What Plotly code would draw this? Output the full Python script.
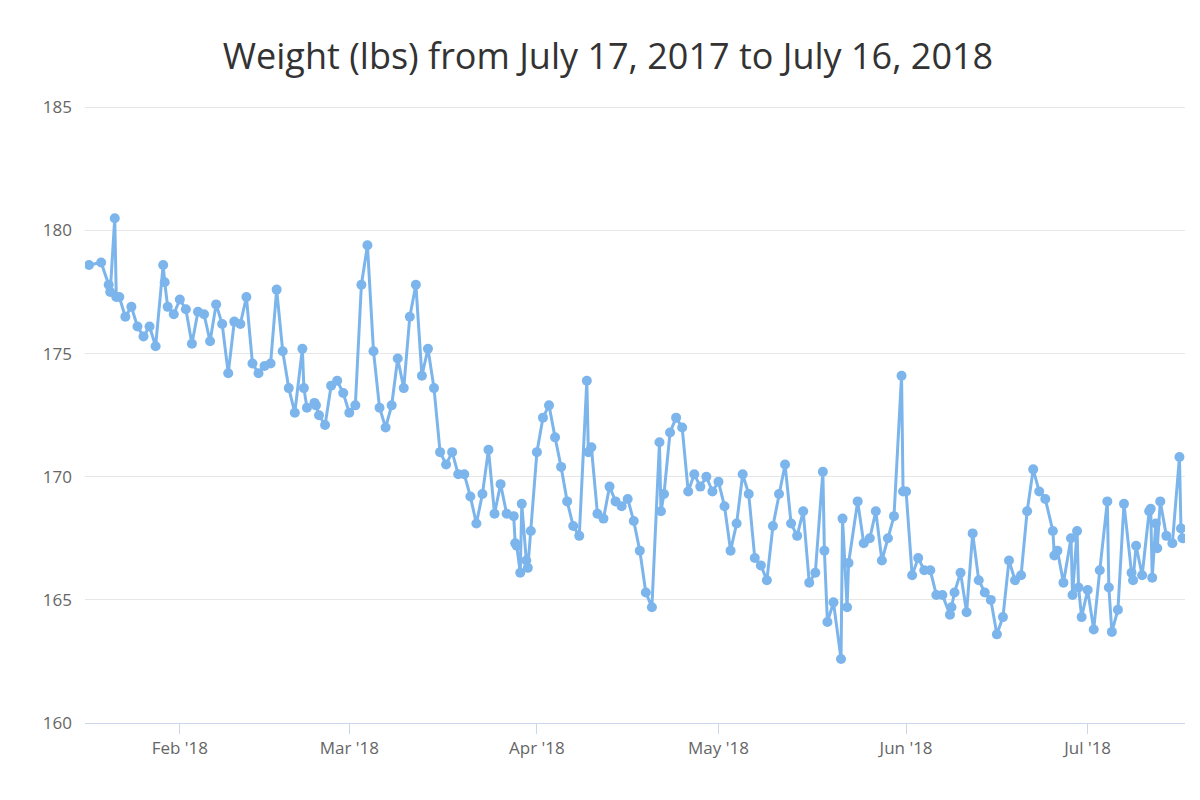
"""Daily weight log, Highcharts-style line chart."""
import plotly.graph_objects as go

# Readings (date, lbs); same-day readings are spread over the day
DATES: list[str] = [
    "2018-01-17", "2018-01-19", "2018-01-20 06:00", "2018-01-20 12:00",
    "2018-01-21 06:00", "2018-01-21 12:00", "2018-01-22", "2018-01-23",
    "2018-01-24", "2018-01-25", "2018-01-26", "2018-01-27", "2018-01-28",
    "2018-01-29 06:00", "2018-01-29 12:00", "2018-01-30", "2018-01-31",
    "2018-02-01", "2018-02-02", "2018-02-03", "2018-02-04", "2018-02-05",
    "2018-02-06", "2018-02-07", "2018-02-08", "2018-02-09", "2018-02-10",
    "2018-02-11", "2018-02-12", "2018-02-13", "2018-02-14", "2018-02-15",
    "2018-02-16", "2018-02-17", "2018-02-18", "2018-02-19", "2018-02-20",
    "2018-02-21 06:00", "2018-02-21 12:00", "2018-02-22", "2018-02-23 06:00",
    "2018-02-23 12:00", "2018-02-24", "2018-02-25", "2018-02-26", "2018-02-27",
    "2018-02-28", "2018-03-01", "2018-03-02", "2018-03-03", "2018-03-04",
    "2018-03-05", "2018-03-06", "2018-03-07", "2018-03-08", "2018-03-09",
    "2018-03-10", "2018-03-11", "2018-03-12", "2018-03-13", "2018-03-14",
    "2018-03-15", "2018-03-16", "2018-03-17", "2018-03-18", "2018-03-19",
    "2018-03-20", "2018-03-21", "2018-03-22", "2018-03-23", "2018-03-24",
    "2018-03-25", "2018-03-26", "2018-03-27", "2018-03-28 04:00",
    "2018-03-28 10:00", "2018-03-28 16:00", "2018-03-29 06:00",
    "2018-03-29 12:00", "2018-03-30 06:00", "2018-03-30 12:00", "2018-03-31",
    "2018-04-01", "2018-04-02", "2018-04-03", "2018-04-04", "2018-04-05",
    "2018-04-06", "2018-04-07", "2018-04-08", "2018-04-09 06:00",
    "2018-04-09 12:00", "2018-04-10", "2018-04-11", "2018-04-12", "2018-04-13",
    "2018-04-14", "2018-04-15", "2018-04-16", "2018-04-17", "2018-04-18",
    "2018-04-19", "2018-04-20", "2018-04-21 06:00", "2018-04-21 12:00",
    "2018-04-22", "2018-04-23", "2018-04-24", "2018-04-25", "2018-04-26",
    "2018-04-27", "2018-04-28", "2018-04-29", "2018-04-30", "2018-05-01",
    "2018-05-02", "2018-05-03", "2018-05-04", "2018-05-05", "2018-05-06",
    "2018-05-07", "2018-05-08", "2018-05-09", "2018-05-10", "2018-05-11",
    "2018-05-12", "2018-05-13", "2018-05-14", "2018-05-15", "2018-05-16",
    "2018-05-17", "2018-05-18 06:00", "2018-05-18 12:00", "2018-05-19",
    "2018-05-20", "2018-05-21 06:00", "2018-05-21 12:00", "2018-05-22 06:00",
    "2018-05-22 12:00", "2018-05-24", "2018-05-25", "2018-05-26", "2018-05-27",
    "2018-05-28", "2018-05-29", "2018-05-30", "2018-05-31 06:00",
    "2018-05-31 12:00", "2018-06-01", "2018-06-02", "2018-06-03", "2018-06-04",
    "2018-06-05", "2018-06-06", "2018-06-07", "2018-06-08 06:00",
    "2018-06-08 12:00", "2018-06-09", "2018-06-10", "2018-06-11", "2018-06-12",
    "2018-06-13", "2018-06-14", "2018-06-15", "2018-06-16", "2018-06-17",
    "2018-06-18", "2018-06-19", "2018-06-20", "2018-06-21", "2018-06-22",
    "2018-06-23", "2018-06-24", "2018-06-25 06:00", "2018-06-25 12:00",
    "2018-06-26", "2018-06-27", "2018-06-28 06:00", "2018-06-28 12:00",
    "2018-06-29 06:00", "2018-06-29 12:00", "2018-06-30", "2018-07-01",
    "2018-07-02", "2018-07-03", "2018-07-04 06:00", "2018-07-04 12:00",
    "2018-07-05", "2018-07-06", "2018-07-07", "2018-07-08 06:00",
    "2018-07-08 12:00", "2018-07-09", "2018-07-10", "2018-07-11 04:00",
    "2018-07-11 10:00", "2018-07-11 16:00", "2018-07-12 06:00",
    "2018-07-12 12:00", "2018-07-13", "2018-07-14", "2018-07-15",
    "2018-07-16 04:00", "2018-07-16 10:00", "2018-07-16 16:00",
]
WEIGHTS: list[float] = [
    178.6, 178.7, 177.8, 177.5,
    180.5, 177.3, 177.3, 176.5,
    176.9, 176.1, 175.7, 176.1, 175.3,
    178.6, 177.9, 176.9, 176.6,
    177.2, 176.8, 175.4, 176.7, 176.6,
    175.5, 177.0, 176.2, 174.2, 176.3,
    176.2, 177.3, 174.6, 174.2, 174.5,
    174.6, 177.6, 175.1, 173.6, 172.6,
    175.2, 173.6, 172.8, 173.0,
    172.9, 172.5, 172.1, 173.7, 173.9,
    173.4, 172.6, 172.9, 177.8, 179.4,
    175.1, 172.8, 172.0, 172.9, 174.8,
    173.6, 176.5, 177.8, 174.1, 175.2,
    173.6, 171.0, 170.5, 171.0, 170.1,
    170.1, 169.2, 168.1, 169.3, 171.1,
    168.5, 169.7, 168.5, 168.4,
    167.3, 167.2, 166.1,
    168.9, 166.6, 166.3, 167.8,
    171.0, 172.4, 172.9, 171.6, 170.4,
    169.0, 168.0, 167.6, 173.9,
    171.0, 171.2, 168.5, 168.3, 169.6,
    169.0, 168.8, 169.1, 168.2, 167.0,
    165.3, 164.7, 171.4, 168.6,
    169.3, 171.8, 172.4, 172.0, 169.4,
    170.1, 169.6, 170.0, 169.4, 169.8,
    168.8, 167.0, 168.1, 170.1, 169.3,
    166.7, 166.4, 165.8, 168.0, 169.3,
    170.5, 168.1, 167.6, 168.6, 165.7,
    166.1, 170.2, 167.0, 164.1,
    164.9, 162.6, 168.3, 164.7,
    166.5, 169.0, 167.3, 167.5, 168.6,
    166.6, 167.5, 168.4, 174.1,
    169.4, 169.4, 166.0, 166.7, 166.2,
    166.2, 165.2, 165.2, 164.4,
    164.7, 165.3, 166.1, 164.5, 167.7,
    165.8, 165.3, 165.0, 163.6, 164.3,
    166.6, 165.8, 166.0, 168.6, 170.3,
    169.4, 169.1, 167.8, 166.8,
    167.0, 165.7, 167.5, 165.2,
    167.8, 165.5, 164.3, 165.4,
    163.8, 166.2, 169.0, 165.5,
    163.7, 164.6, 168.9, 166.1,
    165.8, 167.2, 166.0, 168.6,
    168.7, 165.9, 168.1,
    167.1, 169.0, 167.6, 167.3,
    170.8, 167.9, 167.5,
]

Y_TICKS: list[int] = [160, 165, 170, 175, 180, 185]
X_TICKS: list[str] = ["2018-02-01", "2018-03-01", "2018-04-01", "2018-05-01", "2018-06-01", "2018-07-01"]
X_LABELS: list[str] = ["Feb '18", "Mar '18", "Apr '18", "May '18", "Jun '18", "Jul '18"]

fig = go.Figure(go.Scatter(
    x=DATES,
    y=WEIGHTS,
    mode="lines+markers",
    line={"color": "#7cb5ec", "width": 3},
    marker={"color": "#7cb5ec", "size": 10},
    showlegend=False,
))

fig.update_layout(
    width=1200,
    height=800,
    title={
        "text": "Weight (lbs) from July 17, 2017 to July 16, 2018",
        "x": 0.5, "y": 0.955, "xanchor": "center",
        "font": {"size": 36, "color": "#333333", "family": "Open Sans"},
    },
    font={"family": "Open Sans", "color": "#666666", "size": 17},
    plot_bgcolor="white",
    paper_bgcolor="white",
    margin={"l": 77, "r": 23, "t": 92, "b": 85},
)
fig.update_xaxes(
    range=["2018-01-16 08:00", "2018-07-17 02:00"],
    tickvals=X_TICKS, ticktext=X_LABELS,
    showgrid=False, showline=True, linecolor="#ccd6eb", linewidth=1,
    ticks="outside", tickcolor="#ccd6eb", ticklen=10,
)
fig.update_yaxes(
    range=[160, 185.3],
    tickvals=Y_TICKS,
    gridcolor="#e6e6e6", zeroline=False, ticklabelstandoff=12,
)

fig.write_html("out.html")
